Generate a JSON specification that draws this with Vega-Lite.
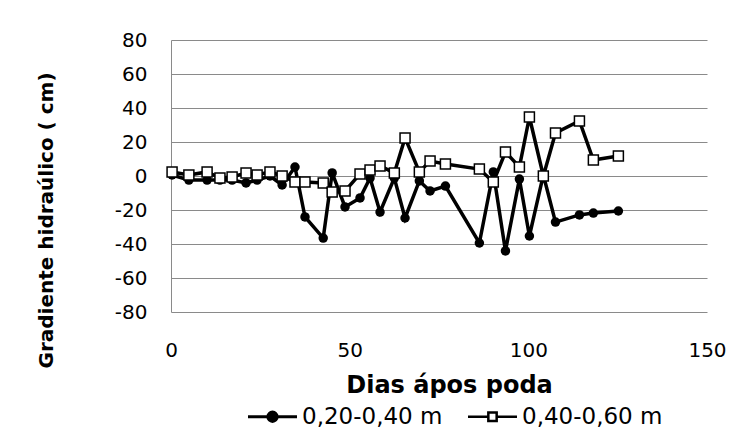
{
  "$schema": "https://vega.github.io/schema/vega-lite/v6.json",
  "width": 536,
  "height": 272,
  "autosize": {"type": "none"},
  "padding": {"left": 171, "top": 40, "right": 26, "bottom": 117},
  "background": "white",
  "config": {
    "view": {"stroke": null},
    "font": "DejaVu Sans",
    "axis": {"labelColor": "#000", "titleColor": "#000", "labelFont": "DejaVu Sans", "titleFont": "DejaVu Sans"}
  },
  "data": {
    "values": [
      {"d": 0.3, "v": 0.6, "s": "0,20-0,40 m"},
      {"d": 5.0, "v": -2.4, "s": "0,20-0,40 m"},
      {"d": 10.1, "v": -2.4, "s": "0,20-0,40 m"},
      {"d": 13.7, "v": -2.4, "s": "0,20-0,40 m"},
      {"d": 17.1, "v": -2.4, "s": "0,20-0,40 m"},
      {"d": 21.0, "v": -4.1, "s": "0,20-0,40 m"},
      {"d": 24.1, "v": -2.4, "s": "0,20-0,40 m"},
      {"d": 27.7, "v": 0.0, "s": "0,20-0,40 m"},
      {"d": 31.1, "v": -5.3, "s": "0,20-0,40 m"},
      {"d": 34.7, "v": 5.3, "s": "0,20-0,40 m"},
      {"d": 37.5, "v": -24.1, "s": "0,20-0,40 m"},
      {"d": 42.6, "v": -36.5, "s": "0,20-0,40 m"},
      {"d": 45.1, "v": 1.8, "s": "0,20-0,40 m"},
      {"d": 48.7, "v": -18.2, "s": "0,20-0,40 m"},
      {"d": 52.9, "v": -12.9, "s": "0,20-0,40 m"},
      {"d": 55.7, "v": -1.2, "s": "0,20-0,40 m"},
      {"d": 58.5, "v": -21.2, "s": "0,20-0,40 m"},
      {"d": 62.5, "v": -1.2, "s": "0,20-0,40 m"},
      {"d": 65.5, "v": -24.7, "s": "0,20-0,40 m"},
      {"d": 69.5, "v": -2.9, "s": "0,20-0,40 m"},
      {"d": 72.5, "v": -8.8, "s": "0,20-0,40 m"},
      {"d": 76.8, "v": -5.9, "s": "0,20-0,40 m"},
      {"d": 86.3, "v": -39.4, "s": "0,20-0,40 m"},
      {"d": 90.2, "v": 2.4, "s": "0,20-0,40 m"},
      {"d": 93.6, "v": -44.1, "s": "0,20-0,40 m"},
      {"d": 97.5, "v": -1.8, "s": "0,20-0,40 m"},
      {"d": 100.3, "v": -35.3, "s": "0,20-0,40 m"},
      {"d": 104.2, "v": 0.6, "s": "0,20-0,40 m"},
      {"d": 107.6, "v": -27.1, "s": "0,20-0,40 m"},
      {"d": 114.3, "v": -22.9, "s": "0,20-0,40 m"},
      {"d": 118.2, "v": -21.8, "s": "0,20-0,40 m"},
      {"d": 125.2, "v": -20.6, "s": "0,20-0,40 m"},
      {"d": 0.3, "v": 2.4, "s": "0,40-0,60 m"},
      {"d": 5.0, "v": 0.6, "s": "0,40-0,60 m"},
      {"d": 10.1, "v": 2.4, "s": "0,40-0,60 m"},
      {"d": 13.7, "v": -1.2, "s": "0,40-0,60 m"},
      {"d": 17.1, "v": -0.6, "s": "0,40-0,60 m"},
      {"d": 21.0, "v": 1.8, "s": "0,40-0,60 m"},
      {"d": 24.1, "v": 0.6, "s": "0,40-0,60 m"},
      {"d": 27.7, "v": 2.4, "s": "0,40-0,60 m"},
      {"d": 31.1, "v": 0.0, "s": "0,40-0,60 m"},
      {"d": 34.7, "v": -3.5, "s": "0,40-0,60 m"},
      {"d": 37.5, "v": -3.5, "s": "0,40-0,60 m"},
      {"d": 42.6, "v": -4.1, "s": "0,40-0,60 m"},
      {"d": 45.1, "v": -9.4, "s": "0,40-0,60 m"},
      {"d": 48.7, "v": -8.8, "s": "0,40-0,60 m"},
      {"d": 52.9, "v": 1.2, "s": "0,40-0,60 m"},
      {"d": 55.7, "v": 3.5, "s": "0,40-0,60 m"},
      {"d": 58.5, "v": 5.9, "s": "0,40-0,60 m"},
      {"d": 62.5, "v": 1.8, "s": "0,40-0,60 m"},
      {"d": 65.5, "v": 22.4, "s": "0,40-0,60 m"},
      {"d": 69.5, "v": 2.4, "s": "0,40-0,60 m"},
      {"d": 72.5, "v": 8.8, "s": "0,40-0,60 m"},
      {"d": 76.8, "v": 7.1, "s": "0,40-0,60 m"},
      {"d": 86.3, "v": 4.1, "s": "0,40-0,60 m"},
      {"d": 90.2, "v": -3.5, "s": "0,40-0,60 m"},
      {"d": 93.6, "v": 14.1, "s": "0,40-0,60 m"},
      {"d": 97.5, "v": 5.3, "s": "0,40-0,60 m"},
      {"d": 100.3, "v": 34.7, "s": "0,40-0,60 m"},
      {"d": 104.2, "v": 0.0, "s": "0,40-0,60 m"},
      {"d": 107.6, "v": 25.3, "s": "0,40-0,60 m"},
      {"d": 114.3, "v": 32.4, "s": "0,40-0,60 m"},
      {"d": 118.2, "v": 9.4, "s": "0,40-0,60 m"},
      {"d": 125.2, "v": 11.8, "s": "0,40-0,60 m"}
    ]
  },
  "encoding": {
    "x": {
      "field": "d", "type": "quantitative",
      "scale": {"domain": [0, 150], "nice": false, "zero": false},
      "axis": {
        "title": "Dias ápos poda", "values": [0, 50, 100, 150],
        "grid": false, "domain": false, "ticks": false, "tickSize": 0,
        "labelFontSize": 20, "labelPadding": 28, "labelFlush": false,
        "titleFontSize": 24, "titleFontWeight": "bold",
        "titleX": 278, "titleY": 80, "titleBaseline": "alphabetic"
      }
    },
    "y": {
      "field": "v", "type": "quantitative",
      "scale": {"domain": [-80, 80], "nice": false},
      "axis": {
        "title": "Gradiente hidraúlico ( cm)",
        "values": [-80, -60, -40, -20, 0, 20, 40, 60, 80],
        "labelExpr": "replace(datum.label, '−', '-')",
        "grid": true, "gridColor": "#8a8a8a", "gridWidth": 1,
        "domain": true, "domainColor": "#8a8a8a", "domainWidth": 1,
        "ticks": false, "tickSize": 0,
        "labelFontSize": 20, "labelPadding": 24,
        "titleFontSize": 20, "titleFontWeight": "bold",
        "titleAngle": 270, "titleX": -119, "titleY": 180, "titleBaseline": "alphabetic", "titleAlign": "center"
      }
    }
  },
  "layer": [
    {
      "mark": {"type": "line", "strokeWidth": 3.5},
      "encoding": {
        "color": {
          "field": "s", "type": "nominal",
          "scale": {"domain": ["0,20-0,40 m", "0,40-0,60 m"], "range": ["black", "black"]},
          "legend": {
            "title": null, "orient": "none", "direction": "horizontal",
            "legendX": 90, "legendY": 365,
            "labelFontSize": 23, "labelFont": "DejaVu Sans", "labelColor": "#000",
            "symbolSize": 2401, "labelOffset": 18, "columnPadding": 20,
            "symbolType": "M-1,0H1",
            "symbolStrokeWidth": 3, "symbolStrokeColor": "black",
            "encode": {
              "symbols": {
                "update": {
                  "shape": {"signal": "datum.value === '0,20-0,40 m' ? 'M-1,0H1M0.19,0A0.19,0.19,0,1,1,-0.19,0A0.19,0.19,0,1,1,0.19,0Z' : 'M-1,0H-0.17M0.17,0H1M-0.17,-0.17H0.17V0.17H-0.17Z'"},
                  "size": {"value": 2401},
                  "stroke": {"value": "black"},
                  "fill": {"signal": "datum.value === '0,20-0,40 m' ? 'black' : 'white'"},
                  "fillOpacity": {"value": 1},
                  "strokeWidth": {"signal": "datum.value === '0,20-0,40 m' ? 3 : 2.5"}
                }
              }
            }
          }
        }
      }
    },
    {
      "transform": [{"filter": "datum.s === '0,20-0,40 m'"}],
      "mark": {"type": "point", "shape": "circle", "filled": true, "color": "black", "size": 90, "opacity": 1}
    },
    {
      "transform": [{"filter": "datum.s === '0,40-0,60 m'"}],
      "mark": {"type": "point", "shape": "square", "fill": "white", "stroke": "black", "strokeWidth": 1.5, "size": 100, "opacity": 1}
    }
  ]
}
